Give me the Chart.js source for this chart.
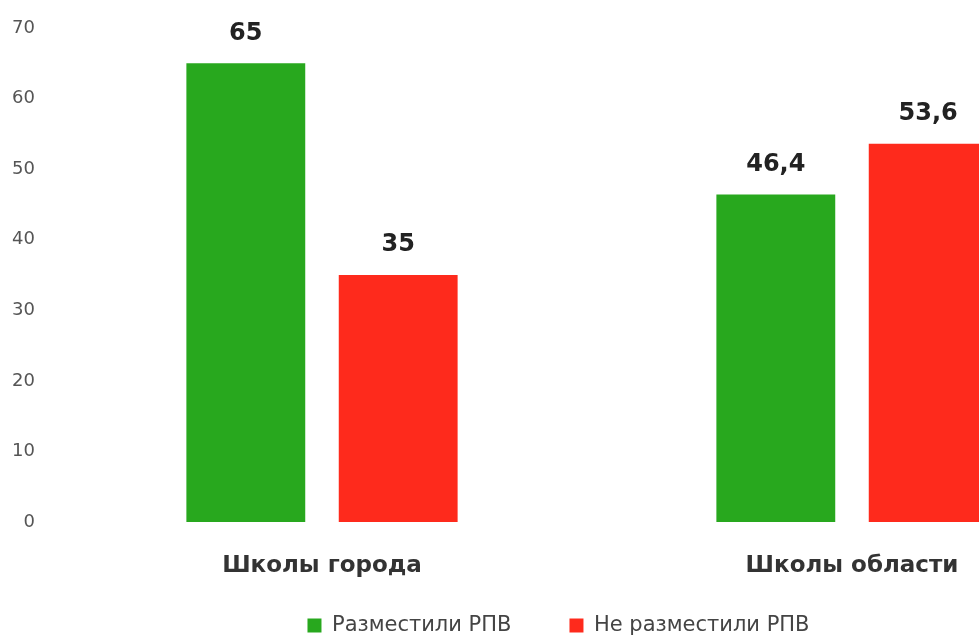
<!DOCTYPE html>
<html><head><meta charset="utf-8">
<script src="https://cdn.jsdelivr.net/npm/chart.js@4/dist/chart.umd.min.js"></script>
<style>html,body{margin:0;padding:0;background:#fff;overflow:hidden;width:979px;height:639px}#wrap{width:1125px;height:639px}</style>
</head><body><div id="wrap"><canvas id="c" width="1125" height="639"></canvas></div>
<script>
const categories = ["Школы города", "Школы области"];
const seriesNames = ["Разместили РПВ", "Не разместили РПВ"];
const placed = [65, 46.4];
const notPlaced = [35, 53.6];
const yTicks = [0, 10, 20, 30, 40, 50, 60, 70];

const FONT = "'DejaVu Sans', sans-serif";
const labelPlugin = {
  id: 'vals',
  afterInit(chart) {
    const lg = chart.legend;
    if (!lg) return;
    const fit = lg.fit.bind(lg);
    lg.fit = function () { fit(); this.height = Math.min(this.height, 59); };
    const draw = lg.draw.bind(lg);
    lg.draw = function () { const t = this.top; this.top = t - 21; draw(); this.top = t; };
  },
  afterDatasetsDraw(chart) {
    const ctx = chart.ctx;
    ctx.save();
    ctx.font = "bold 24px " + FONT;
    ctx.fillStyle = "#222";
    ctx.textAlign = "center";
    ctx.textBaseline = "middle";
    chart.data.datasets.forEach((ds, i) => {
      chart.getDatasetMeta(i).data.forEach((bar, j) => {
        const v = ds.data[j];
        ctx.fillText(String(v).replace('.', ','), bar.x, bar.y - 30);
      });
    });
    ctx.restore();
  }
};

new Chart(document.getElementById('c'), {
  type: 'bar',
  data: {
    labels: categories,
    datasets: [
      { label: seriesNames[0], data: placed, backgroundColor: '#28a81e' },
      { label: seriesNames[1], data: notPlaced, backgroundColor: '#fe2a1c' }
    ]
  },
  options: {
    responsive: false,
    animation: false,
    layout: { padding: { top: 28, right: 8, left: 0, bottom: 2 } },
    datasets: { bar: { categoryPercentage: 0.575, barPercentage: 0.78 } },
    scales: {
      y: {
        min: 0, max: 70,
        afterBuildTicks: s => { s.ticks = yTicks.map(v => ({ value: v })); },
        afterFit: s => { s.width = 57; s.paddingTop = 0; s.paddingBottom = 0; },
        grid: { display: false, drawTicks: false },
        border: { display: false },
        ticks: { padding: 22, color: '#555', font: { family: FONT, size: 18 } }
      },
      x: {
        afterFit: s => { s.height = 56; },
        grid: { display: false, drawTicks: false },
        border: { display: false },
        ticks: { padding: 30, color: '#333', font: { family: FONT, size: 23, weight: 'bold' } }
      }
    },
    plugins: {
      legend: {
        position: 'bottom',
        labels: { boxWidth: 14, boxHeight: 14, padding: 58, color: '#444', font: { family: FONT, size: 21 } }
      },
      tooltip: { enabled: false }
    }
  },
  plugins: [labelPlugin]
});
</script></body></html>
